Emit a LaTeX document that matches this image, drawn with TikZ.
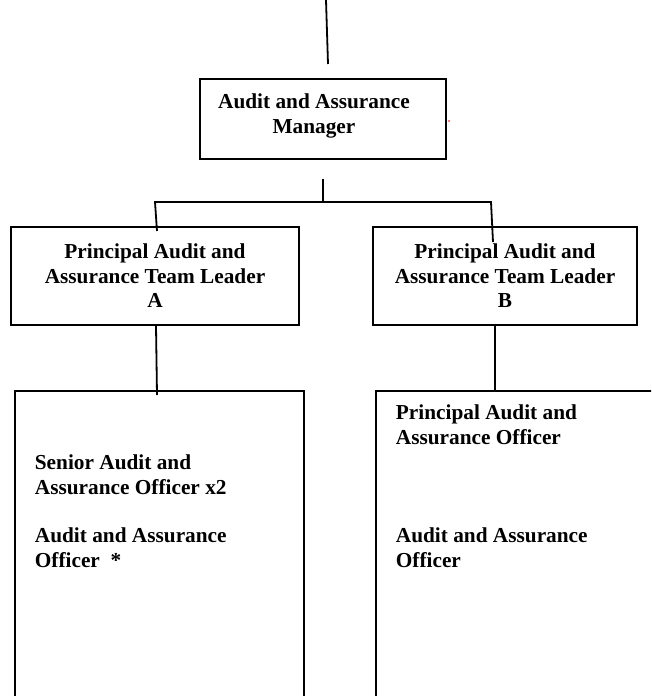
\documentclass[tikz,border=0pt]{standalone}
\usepackage{fontspec}
\setmainfont{Liberation Serif}
\usetikzlibrary{calc}
\begin{document}
\begin{tikzpicture}[x=1pt,y=-1pt,
  line width=1.8pt,
  boxstyle/.style={draw=black, line width=1.8pt, inner sep=0pt},
  txt/.style={font=\fontsize{21.3}{24.5}\selectfont\bfseries, inner sep=0pt, align=center},
  ltxt/.style={font=\fontsize{21.3}{24.5}\selectfont\bfseries, inner sep=0pt, align=left, anchor=base west}]
\useasboundingbox (0,0) rectangle (651,696);
\clip (0,0) rectangle (651,696);
% boxes
\node[boxstyle, minimum width=246pt, minimum height=80pt] (mgr) at (323,119) {};
\node[txt] (mgrtxt) at (314,116) {Audit and Assurance\\Manager};
\node[boxstyle, minimum width=288pt, minimum height=98pt] (tla) at (155,276) {};
\node[txt] (tlatxt) at (155,276) {Principal Audit and\\Assurance Team Leader\\A};
\node[boxstyle, minimum width=264pt, minimum height=98pt] (tlb) at (505,276) {};
\node[txt] (tlbtxt) at (505,276) {Principal Audit and\\Assurance Team Leader\\B};
\node[boxstyle, minimum width=289pt, minimum height=340pt, anchor=north west] (offa) at (14,390) {};
\node[boxstyle, minimum width=300pt, minimum height=340pt, anchor=north west] (offb) at (375,390) {};
\node[ltxt] (offatxt1) at (34,494) {Senior Audit and\\Assurance Officer x2};
\node[ltxt] (offatxt2) at (34,567) {Audit and Assurance\\Officer~~*};
\node[ltxt] (offbtxt1) at (395,444) {Principal Audit and\\Assurance Officer};
\node[ltxt] (offbtxt2) at (395,567) {Audit and Assurance\\Officer};
% red dot
\fill[red] (449,121) circle (0.9pt);
% connectors
\coordinate (topa) at (326,0);
\coordinate (topb) at (328,64);
\draw (topa) -- (topb);
\coordinate (mgrdown) at ($(mgr.south)+(0,19)$);
\coordinate (bus) at ($(mgr.south)+(0,43)$);
\coordinate (busl) at (155,202);
\coordinate (busr) at (491,202);
\coordinate (enda) at (157,231);
\coordinate (endb) at (493,242);
\draw (mgrdown) -- (bus);
\draw (enda) -- (busl) -- (busr) -- (endb);
\coordinate (dropa) at (157,395);
\coordinate (dropb) at (495,390);
\draw ($(tla.south)+(1,0)$) -- (dropa);
\draw ($(tlb.south)+(-10,0)$) -- (dropb);
\end{tikzpicture}
\end{document}
